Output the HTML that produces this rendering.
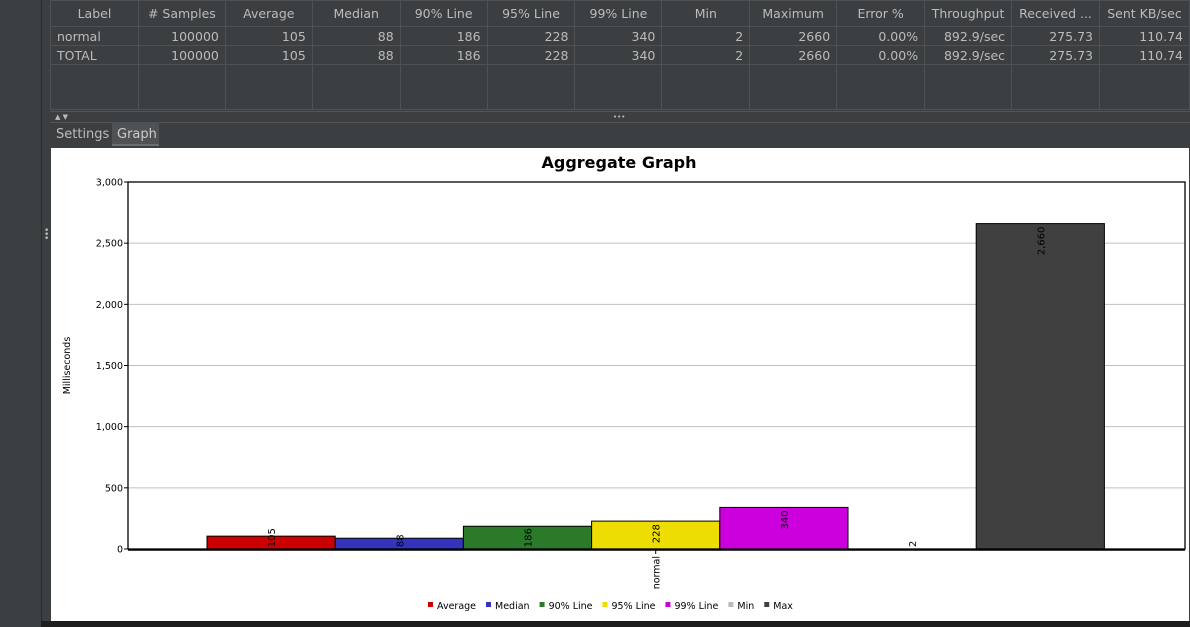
<!DOCTYPE html>
<html><head><meta charset="utf-8"><style>
body{margin:0;width:1190px;height:627px;overflow:hidden;background:#3c3f41;font-family:"DejaVu Sans","Liberation Sans",sans-serif;position:relative}
.abs{position:absolute}
table{border-collapse:collapse;position:absolute;left:50px;top:0;font-size:12.5px;color:#bbbbbb}
td{border:1px solid #4e5254;padding:0 6px;height:19px;box-sizing:border-box;text-align:right;color:#bbb}
th{border:1px solid #4e5254;font-weight:normal;height:26px;box-sizing:border-box;text-align:center;color:#bbb}
</style></head><body>
<div class="abs" style="left:0;top:0;width:41px;height:627px;background:#3c3f41;border-right:1px solid #2b2b2b"></div>
<div class="abs" style="left:44px;top:229px;color:#bbb;font-size:9px;line-height:4px">•<br>•<br>•</div>
<table>
<tr><th style="width:88px">Label</th><th style="width:87px"># Samples</th><th style="width:87px">Average</th><th style="width:88px">Median</th><th style="width:87px">90% Line</th><th style="width:88px">95% Line</th><th style="width:87px">99% Line</th><th style="width:88px">Min</th><th style="width:87px">Maximum</th><th style="width:88px">Error %</th><th style="width:87px">Throughput</th><th style="width:88px">Received ...</th><th style="width:90px">Sent KB/sec</th></tr>
<tr><td style="text-align:left">normal</td><td>100000</td><td>105</td><td>88</td><td>186</td><td>228</td><td>340</td><td>2</td><td>2660</td><td>0.00%</td><td>892.9/sec</td><td>275.73</td><td>110.74</td></tr>
<tr><td style="text-align:left">TOTAL</td><td>100000</td><td>105</td><td>88</td><td>186</td><td>228</td><td>340</td><td>2</td><td>2660</td><td>0.00%</td><td>892.9/sec</td><td>275.73</td><td>110.74</td></tr>
<tr><td style="height:45px"></td><td></td><td></td><td></td><td></td><td></td><td></td><td></td><td></td><td></td><td></td><td></td><td></td></tr>
</table>
<div class="abs" style="left:50px;top:111px;width:1140px;height:10px;border-top:1px solid #555;border-bottom:1px solid #555;color:#bbb;font-size:7px;line-height:10px"><span style="margin-left:5px">▲ ▼</span><span style="position:absolute;left:563px">•••</span></div>
<div class="abs" style="left:51px;top:122px;width:60px;height:26px;line-height:26px;color:#bbb;font-size:13px;padding-left:5px">Settings</div>
<div class="abs" style="left:112px;top:122px;width:47px;height:24px;line-height:25px;color:#ccc;font-size:13px;padding-left:5px;box-sizing:border-box;width:47px;background:#4e5254;border-bottom:2px solid #6a6e70">Graph</div>
<div class="abs" style="left:41px;top:621px;width:1149px;height:6px;background:#1e1e1e"></div>
<svg class="abs" style="left:51px;top:148px" width="1138" height="473">
<rect width="1138" height="473" fill="#fff"/>
<text x="568" y="20" text-anchor="middle" font-size="16" font-weight="bold" font-family="DejaVu Sans,sans-serif">Aggregate Graph</text>
<g id="g" font-family="DejaVu Sans,sans-serif"></g>
</svg>
<script>
const series=["Average","Median","90% Line","95% Line","99% Line","Min","Max"];
const values=[105,88,186,228,340,2,2660];
const colors=["#cc0000","#3333bb","#2a7a2a","#eedd00","#cc00dd","#bbbbbb","#404040"];
const yTicks=[0,500,1000,1500,2000,2500,3000];
const category="normal";
const NS="http://www.w3.org/2000/svg",g=document.getElementById('g');
const L=77,T=34,R=1134,B=401,yMax=3000;
const y=v=>B-(v/yMax)*(B-T);
const bx0=156,bw=128.2;
function el(t,a,p){const e=document.createElementNS(NS,t);for(const k in a)e.setAttribute(k,a[k]);(p||g).appendChild(e);return e;}
yTicks.forEach(t=>{
 if(t>0&&t<yMax){const l=el('line',{x1:L,x2:R,y1:y(t),y2:y(t),stroke:'#c0c0c0'});}
 el('line',{x1:L-4,x2:L,y1:y(t),y2:y(t),stroke:'#000'});
 const tx=el('text',{x:L-5,y:y(t)+3.5,'text-anchor':'end','font-size':9.5});tx.textContent=t.toLocaleString('en-US');
 
});
values.forEach((v,i)=>{
 const x=bx0+i*bw,top=y(v);
 const r=el('rect',{x:x,y:top,width:bw,height:B-top,fill:colors[i],stroke:(i==5?'none':'#000'),'stroke-width':1});
 
 
 const s=v.toLocaleString('en-US');const len=s.length*6.3;
 let ty=top+3; if(ty+len>B-2) ty=B-2-len;
 const cx=x+bw/2+4;
 const tx=el('text',{x:0,y:0,transform:`translate(${cx},${ty}) rotate(-90)`,'text-anchor':'end','font-size':10});
 tx.textContent=s;
 
 
});
el('rect',{x:L,y:T,width:R-L,height:B-T,fill:'none',stroke:'#000','stroke-width':1.3});
el('line',{x1:L,x2:R,y1:B+1,y2:B+1,stroke:'#000','stroke-width':1.5});
const cx=bx0+3.5*bw;
el('line',{x1:cx,x2:cx,y1:B+1,y2:B+5,stroke:'#000'});
const ct=el('text',{transform:`translate(${cx+4},${B+7}) rotate(-90)`,'text-anchor':'end','font-size':9.5});ct.textContent=category;

const yt=el('text',{transform:`translate(19,${(T+B)/2}) rotate(-90)`,'text-anchor':'middle','font-size':9.5});yt.textContent='Milliseconds';

let lx=377;
series.forEach((s,i)=>{
 el('rect',{x:lx,y:454,width:5,height:5,fill:colors[i]});
 const t=el('text',{x:lx+9,y:461,'font-size':9.5});t.textContent=s;
 
 lx+=9+t.getComputedTextLength()+10;
});
</script>
</body></html>
